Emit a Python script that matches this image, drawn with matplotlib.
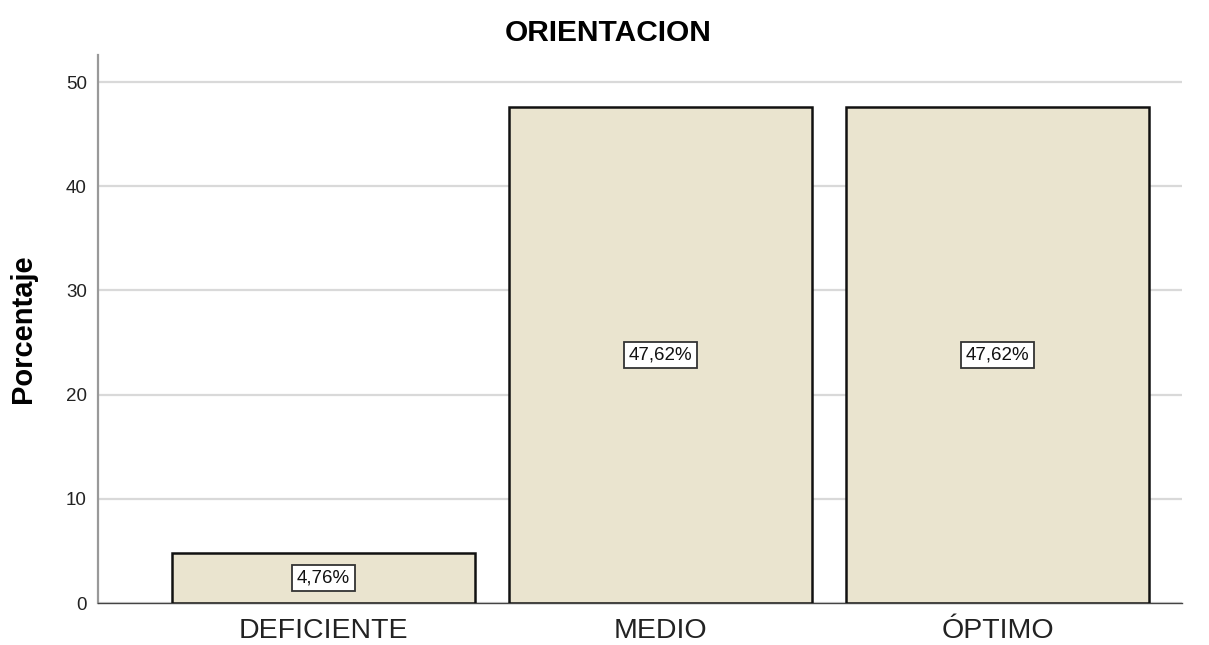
import matplotlib
matplotlib.use("Agg")
import matplotlib.pyplot as plt

categories = ["DEFICIENTE", "MEDIO", "ÓPTIMO"]
percentages = [4.76, 47.62, 47.62]
labels = ["4,76%", "47,62%", "47,62%"]
yticks = [0, 10, 20, 30, 40, 50]

plt.rcParams['font.family'] = ['Liberation Sans', 'DejaVu Sans']

fig = plt.figure(figsize=(12.09, 6.45), dpi=100)
ax = fig.add_axes([98/1209, 1 - 603/645, (1182 - 98)/1209, (603 - 55)/645])

x = list(range(len(categories)))
ax.yaxis.grid(True, color='#d9d9d9', linewidth=1.6, zorder=0)
ax.set_axisbelow(True)
bars = ax.bar(x, percentages, width=0.899, color='#EAE4CF', edgecolor='#111111',
              linewidth=1.8, zorder=3)
for xi, v, lab in zip(x, percentages, labels):
    ax.text(xi, v / 2, lab, ha='center', va='center', fontsize=13.5, color='#111111',
            zorder=5,
            bbox=dict(boxstyle='square,pad=0.25', facecolor='white',
                      edgecolor='#333333', linewidth=1.3))

ax.set_xlim(-0.669, 2.547)
ax.set_ylim(0, 52.6)
ax.set_xticks(x)
ax.set_xticklabels(categories, fontsize=20.5, color='#222222')
ax.set_yticks(yticks)
ax.set_yticklabels([str(t) for t in yticks], fontsize=13.5, color='#222222')
ax.tick_params(axis='both', length=0)
ax.tick_params(axis='y', pad=8)
ax.tick_params(axis='x', pad=11)

for s in ['top', 'right']:
    ax.spines[s].set_visible(False)
ax.spines['left'].set_color('#999999')
ax.spines['left'].set_linewidth(1.6)
ax.spines['bottom'].set_color('#444444')
ax.spines['bottom'].set_linewidth(1.0)

fig.text(608/1209, 1 - 33/645, "ORIENTACION", fontsize=21.5, fontweight='bold',
         ha='center', va='center')
fig.text(23/1209, 1 - 329/645, "Porcentaje", rotation=90, fontsize=21,
         fontweight='bold', ha='center', va='center')

fig.savefig("out.png", dpi=100)
